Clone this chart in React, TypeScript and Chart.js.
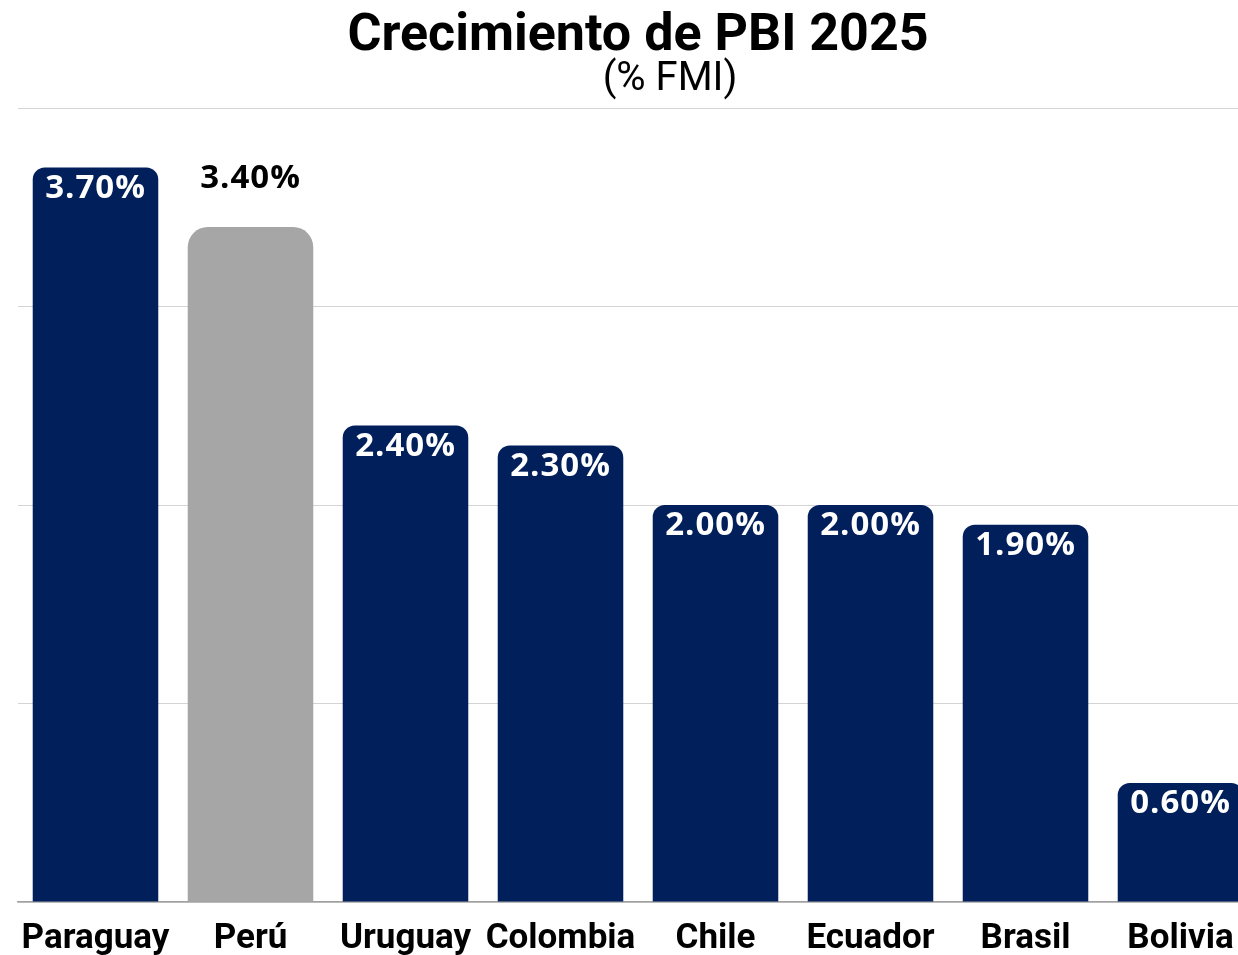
import React, { useEffect, useRef } from "react";
import { Chart, registerables } from "chart.js";

Chart.register(...registerables);

const countries = ["Paraguay", "Perú", "Uruguay", "Colombia", "Chile", "Ecuador", "Brasil", "Bolivia"];
const growth = [3.7, 3.4, 2.4, 2.3, 2.0, 2.0, 1.9, 0.6];
const highlightIndex = 1;
const titleText = "Crecimiento de PBI 2025";
const subtitleText = "(% FMI)";

const NAVY = "#001F5B";
const GRAY = "#A6A6A6";

export default function App() {
  const ref = useRef<HTMLCanvasElement | null>(null);

  useEffect(() => {
    if (!ref.current) return;
    const labelPlugin = {
      id: "valueLabels",
      afterDatasetsDraw(chart: any) {
        const ctx = chart.ctx;
        const meta = chart.getDatasetMeta(0);
        ctx.save();
        ctx.font = "bold 33px 'Open Sans'";
        (ctx as any).letterSpacing = "1px";
        ctx.textAlign = "center";
        ctx.textBaseline = "middle";
        meta.data.forEach((bar: any, i: number) => {
          const txt = growth[i].toFixed(2) + "%";
          if (i === highlightIndex) {
            ctx.fillStyle = "#000000";
            ctx.fillText(txt, bar.x, bar.y - 49);
          } else {
            ctx.fillStyle = "#FFFFFF";
            ctx.fillText(txt, bar.x, bar.y + 21);
          }
        });
        ctx.restore();
      },
    };
    const titlePlugin = {
      id: "customTitle",
      afterDraw(chart: any) {
        const ctx = chart.ctx;
        const cx = chart.width / 2;
        ctx.save();
        ctx.textAlign = "center";
        ctx.textBaseline = "middle";
        ctx.fillStyle = "#000000";
        ctx.font = "bold 52px Roboto";
        ctx.fillText(titleText, cx, 37);
        ctx.font = "normal 40px Roboto";
        ctx.fillText(subtitleText, cx + 32, 80);
        ctx.restore();
      },
    };
    const chart = new Chart(ref.current, {
      type: "bar",
      data: {
        labels: countries,
        datasets: [
          {
            data: growth,
            backgroundColor: growth.map((_, i) => (i === highlightIndex ? GRAY : NAVY)),
            borderRadius: growth.map((_, i) =>
              i === highlightIndex
                ? { topLeft: 20, topRight: 20, bottomLeft: 0, bottomRight: 0 }
                : { topLeft: 12, topRight: 12, bottomLeft: 0, bottomRight: 0 }
            ) as any,
            borderSkipped: "start",
            barPercentage: 0.81,
            categoryPercentage: 1,
          },
        ],
      },
      options: {
        responsive: false,
        animation: false,
        layout: { padding: { top: 108, left: 18, right: 18, bottom: 0 } },
        plugins: { legend: { display: false }, tooltip: { enabled: false }, title: { display: false } },
        scales: {
          x: {
            grid: { display: false },
            border: { display: true, color: "#A0A0A0", width: 1.5 },
            ticks: {
              color: "#000000",
              font: { family: "Roboto", weight: "bold", size: 35 },
              padding: 8,
              maxRotation: 0,
              autoSkip: false,
            },
            afterFit(scale: any) {
              scale.height = 53;
            },
          },
          y: {
            min: 0,
            max: 4,
            ticks: { display: false, stepSize: 1 },
            grid: { color: "#D4D4D4", lineWidth: 1, drawTicks: false },
            border: { display: false },
          },
        },
      },
      plugins: [labelPlugin, titlePlugin],
    });
    return () => chart.destroy();
  }, []);

  return (
    <div style={{ position: "fixed", top: 0, left: 0, width: 1238, height: 955, overflow: "hidden", background: "#FFFFFF" }}>
      <canvas ref={ref} width={1276} height={955} style={{ display: "block" }} />
    </div>
  );
}
